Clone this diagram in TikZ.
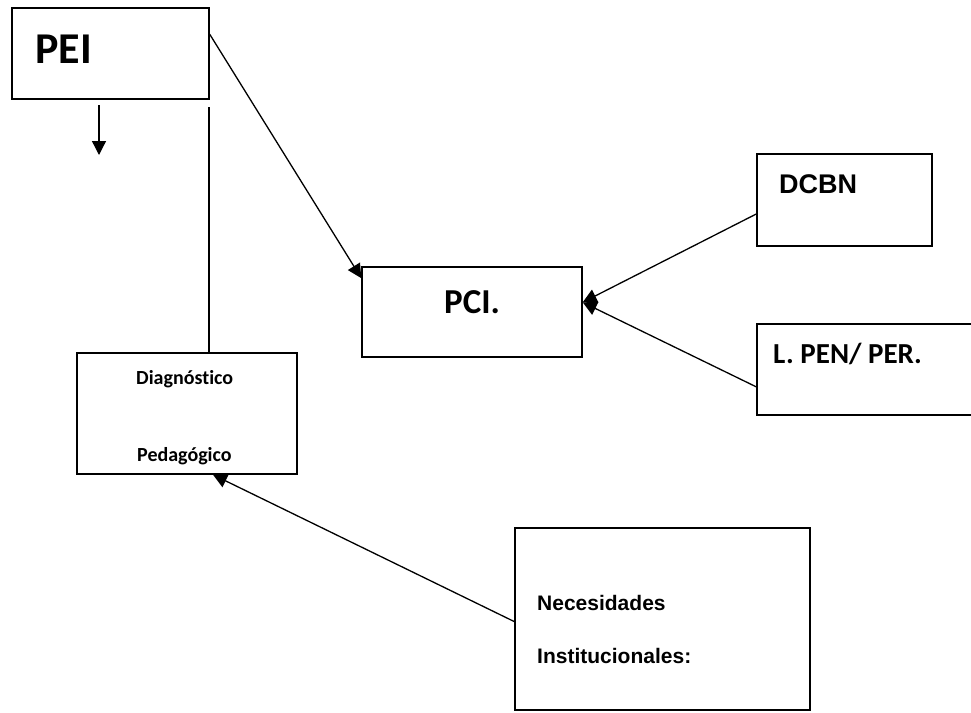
\documentclass[tikz,border=0pt]{standalone}
\usepackage{fontspec}
\setmainfont{Carlito}[Ligatures=NoCommon]
\newfontfamily\arialfont{Liberation Sans}
\usetikzlibrary{arrows.meta}

\tikzset{
  caja/.style={draw, line width=1.4pt, inner sep=0pt},
  rotulo/.style={anchor=base west, inner sep=0pt, font=\bfseries},
  flecha/.style={line width=1.3pt, -{Triangle[length=14pt,width=14pt]}}
}

\begin{document}
\begin{tikzpicture}[x=1pt,y=-1pt]
        \useasboundingbox (0,0) rectangle (971,712);
        % cajas
        \node[caja, minimum width=197pt, minimum height=91pt]  (pei)  at (110.5,53.5) {};
        \node[caja, minimum width=220pt, minimum height=90pt]  (pci)  at (472,312)    {};
        \node[caja, minimum width=175pt, minimum height=92pt]  (dcbn) at (844.5,200)  {};
        \node[caja, minimum width=218pt, minimum height=91pt]  (lpen) at (866,369.5)  {};
        \node[caja, minimum width=220pt, minimum height=121pt] (diag) at (187,413.5)  {};
        \node[caja, minimum width=295pt, minimum height=182pt] (nec)  at (662.5,619)  {};

        % textos
        \node[rotulo, font=\bfseries\fontsize{44}{50}\selectfont] (tpei) at (35,63) {PEI};
        \node[rotulo, font=\bfseries\fontsize{35}{40}\selectfont] (tpci) at (444,313) {PCI.};
        \node[rotulo, font=\arialfont\bfseries\fontsize{27}{30}\selectfont] (tdcbn) at (779,193) {DCBN};
        \node[rotulo, font=\bfseries\fontsize{29}{32}\selectfont] (tlpen) at (773,363) {L. PEN/ PER.};
        \node[rotulo, font=\bfseries\fontsize{20}{24}\selectfont] (tdiag1) at (136,384) {Diagnóstico};
        \node[rotulo, font=\bfseries\fontsize{20}{24}\selectfont] (tdiag2) at (137,461) {Pedagógico};
        \node[rotulo, font=\arialfont\bfseries\fontsize{21}{24}\selectfont] (tnec1) at (537,610) {Necesidades};
        \node[rotulo, font=\arialfont\bfseries\fontsize{21}{24}\selectfont] (tnec2) at (537,663) {Institucionales:};

        \coordinate (bajo1) at (99,105);
        \coordinate (bajo2) at (99,155);
        \coordinate (vtop)  at (209,107);

        \draw[flecha] (bajo1) -- (bajo2);
        \draw[line width=1.3pt] (vtop) -- (vtop |- diag.north);
        \path[flecha]
                 (pei.11.8) edge (pci.163.6)
                 (dcbn.189) edge (pci.5.7)
                 (lpen.189.6) edge (pci.5.7)
                 (nec.181.2) edge (diag.293.3)
                 ;
\end{tikzpicture}
\end{document}
